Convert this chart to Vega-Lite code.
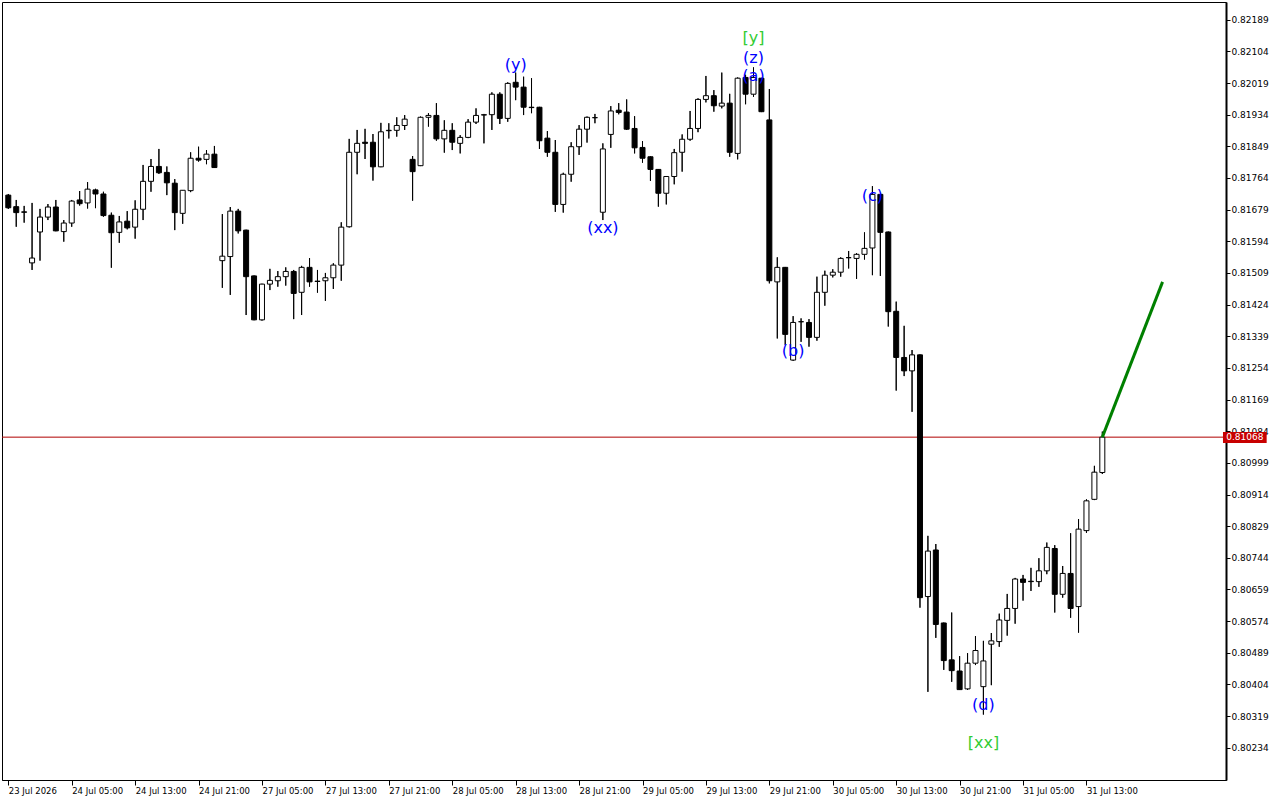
{
"$schema": "https://vega.github.io/schema/vega-lite/v6.json",
"width": 1224, "height": 778,
"autosize": {"type": "none"},
"padding": {"left": 2, "top": 2, "right": 54, "bottom": 20},
"background": "white",
"config": {"view": {"stroke": "black", "strokeWidth": 1}, "axis": {"labelFont": "DejaVu Sans", "labelFontSize": 9, "labelColor": "black", "tickColor": "black", "domainColor": "black", "grid": false, "title": null, "labelOverlap": false}},
"datasets": {
"candles": [
{"i":0,"o":0.81718,"h":0.81721,"l":0.81681,"c":0.81684},
{"i":1,"o":0.81687,"h":0.81705,"l":0.81633,"c":0.81671},
{"i":2,"o":0.81673,"h":0.81689,"l":0.81644,"c":0.81672},
{"i":3,"o":0.81536,"h":0.81697,"l":0.81517,"c":0.81549},
{"i":4,"o":0.81619,"h":0.81681,"l":0.81542,"c":0.81659},
{"i":5,"o":0.81659,"h":0.81694,"l":0.81651,"c":0.81686},
{"i":6,"o":0.81686,"h":0.81705,"l":0.81621,"c":0.81622},
{"i":7,"o":0.81620,"h":0.81651,"l":0.81593,"c":0.81643},
{"i":8,"o":0.81643,"h":0.81705,"l":0.81633,"c":0.81702},
{"i":9,"o":0.81705,"h":0.81729,"l":0.81690,"c":0.81695},
{"i":10,"o":0.81697,"h":0.81753,"l":0.81682,"c":0.81734},
{"i":11,"o":0.81732,"h":0.81735,"l":0.81683,"c":0.81721},
{"i":12,"o":0.81721,"h":0.81727,"l":0.81660,"c":0.81663},
{"i":13,"o":0.81664,"h":0.81671,"l":0.81523,"c":0.81617},
{"i":14,"o":0.81618,"h":0.81662,"l":0.81590,"c":0.81646},
{"i":15,"o":0.81648,"h":0.81675,"l":0.81626,"c":0.81630},
{"i":16,"o":0.81632,"h":0.81704,"l":0.81601,"c":0.81680},
{"i":17,"o":0.81680,"h":0.81799,"l":0.81651,"c":0.81755},
{"i":18,"o":0.81755,"h":0.81815,"l":0.81727,"c":0.81795},
{"i":19,"o":0.81795,"h":0.81842,"l":0.81775,"c":0.81778},
{"i":20,"o":0.81779,"h":0.81795,"l":0.81718,"c":0.81751},
{"i":21,"o":0.81750,"h":0.81761,"l":0.81624,"c":0.81671},
{"i":22,"o":0.81669,"h":0.81731,"l":0.81641,"c":0.81731},
{"i":23,"o":0.81730,"h":0.81833,"l":0.81726,"c":0.81817},
{"i":24,"o":0.81817,"h":0.81848,"l":0.81808,"c":0.81812},
{"i":25,"o":0.81814,"h":0.81839,"l":0.81801,"c":0.81828},
{"i":26,"o":0.81828,"h":0.81850,"l":0.81791,"c":0.81792},
{"i":27,"o":0.81542,"h":0.81667,"l":0.81469,"c":0.81554},
{"i":28,"o":0.81553,"h":0.81686,"l":0.81450,"c":0.81675},
{"i":29,"o":0.81675,"h":0.81681,"l":0.81615,"c":0.81622},
{"i":30,"o":0.81624,"h":0.81625,"l":0.81396,"c":0.81499},
{"i":31,"o":0.81501,"h":0.81502,"l":0.81382,"c":0.81383},
{"i":32,"o":0.81383,"h":0.81480,"l":0.81381,"c":0.81479},
{"i":33,"o":0.81479,"h":0.81520,"l":0.81463,"c":0.81489},
{"i":34,"o":0.81488,"h":0.81514,"l":0.81472,"c":0.81499},
{"i":35,"o":0.81499,"h":0.81524,"l":0.81475,"c":0.81513},
{"i":36,"o":0.81513,"h":0.81517,"l":0.81385,"c":0.81454},
{"i":37,"o":0.81457,"h":0.81528,"l":0.81396,"c":0.81524},
{"i":38,"o":0.81524,"h":0.81549,"l":0.81472,"c":0.81485},
{"i":39,"o":0.81487,"h":0.81517,"l":0.81456,"c":0.81486},
{"i":40,"o":0.81488,"h":0.81509,"l":0.81434,"c":0.81496},
{"i":41,"o":0.81496,"h":0.81535,"l":0.81466,"c":0.81530},
{"i":42,"o":0.81530,"h":0.81645,"l":0.81488,"c":0.81632},
{"i":43,"o":0.81633,"h":0.81869,"l":0.81631,"c":0.81833},
{"i":44,"o":0.81833,"h":0.81893,"l":0.81774,"c":0.81857},
{"i":45,"o":0.81860,"h":0.81896,"l":0.81815,"c":0.81857},
{"i":46,"o":0.81860,"h":0.81882,"l":0.81757,"c":0.81794},
{"i":47,"o":0.81794,"h":0.81912,"l":0.81793,"c":0.81888},
{"i":48,"o":0.81891,"h":0.81911,"l":0.81870,"c":0.81892},
{"i":49,"o":0.81892,"h":0.81927,"l":0.81875,"c":0.81905},
{"i":50,"o":0.81905,"h":0.81933,"l":0.81893,"c":0.81922},
{"i":51,"o":0.81814,"h":0.81823,"l":0.81703,"c":0.81781},
{"i":52,"o":0.81797,"h":0.81929,"l":0.81796,"c":0.81927},
{"i":53,"o":0.81927,"h":0.81938,"l":0.81902,"c":0.81932},
{"i":54,"o":0.81932,"h":0.81965,"l":0.81864,"c":0.81869},
{"i":55,"o":0.81869,"h":0.81919,"l":0.81832,"c":0.81892},
{"i":56,"o":0.81892,"h":0.81911,"l":0.81839,"c":0.81860},
{"i":57,"o":0.81857,"h":0.81879,"l":0.81830,"c":0.81873},
{"i":58,"o":0.81873,"h":0.81922,"l":0.81871,"c":0.81914},
{"i":59,"o":0.81914,"h":0.81951,"l":0.81909,"c":0.81932},
{"i":60,"o":0.81933,"h":0.81936,"l":0.81857,"c":0.81934},
{"i":61,"o":0.81934,"h":0.81994,"l":0.81893,"c":0.81989},
{"i":62,"o":0.81989,"h":0.81994,"l":0.81909,"c":0.81924},
{"i":63,"o":0.81924,"h":0.82021,"l":0.81915,"c":0.82018},
{"i":64,"o":0.82021,"h":0.82047,"l":0.81973,"c":0.82008},
{"i":65,"o":0.82008,"h":0.82036,"l":0.81933,"c":0.81954},
{"i":66,"o":0.81954,"h":0.82032,"l":0.81938,"c":0.81953},
{"i":67,"o":0.81954,"h":0.81955,"l":0.81842,"c":0.81864},
{"i":68,"o":0.81871,"h":0.81890,"l":0.81821,"c":0.81833},
{"i":69,"o":0.81833,"h":0.81866,"l":0.81673,"c":0.81693},
{"i":70,"o":0.81693,"h":0.81778,"l":0.81671,"c":0.81774},
{"i":71,"o":0.81774,"h":0.81860,"l":0.81754,"c":0.81848},
{"i":72,"o":0.81848,"h":0.81906,"l":0.81826,"c":0.81895},
{"i":73,"o":0.81895,"h":0.81929,"l":0.81859,"c":0.81927},
{"i":74,"o":0.81926,"h":0.81936,"l":0.81911,"c":0.81926},
{"i":75,"o":0.81672,"h":0.81857,"l":0.81651,"c":0.81842},
{"i":76,"o":0.81881,"h":0.81957,"l":0.81845,"c":0.81944},
{"i":77,"o":0.81946,"h":0.81965,"l":0.81935,"c":0.81940},
{"i":78,"o":0.81941,"h":0.81975,"l":0.81893,"c":0.81895},
{"i":79,"o":0.81897,"h":0.81930,"l":0.81830,"c":0.81845},
{"i":80,"o":0.81846,"h":0.81863,"l":0.81805,"c":0.81817},
{"i":81,"o":0.81821,"h":0.81822,"l":0.81756,"c":0.81787},
{"i":82,"o":0.81787,"h":0.81788,"l":0.81687,"c":0.81723},
{"i":83,"o":0.81723,"h":0.81769,"l":0.81693,"c":0.81768},
{"i":84,"o":0.81768,"h":0.81842,"l":0.81747,"c":0.81832},
{"i":85,"o":0.81833,"h":0.81881,"l":0.81781,"c":0.81868},
{"i":86,"o":0.81868,"h":0.81944,"l":0.81864,"c":0.81897},
{"i":87,"o":0.81897,"h":0.81978,"l":0.81887,"c":0.81975},
{"i":88,"o":0.81975,"h":0.82038,"l":0.81967,"c":0.81985},
{"i":89,"o":0.81985,"h":0.82000,"l":0.81942,"c":0.81958},
{"i":90,"o":0.81957,"h":0.82047,"l":0.81951,"c":0.81965},
{"i":91,"o":0.81965,"h":0.81990,"l":0.81821,"c":0.81833},
{"i":92,"o":0.81830,"h":0.82034,"l":0.81814,"c":0.82032},
{"i":93,"o":0.82034,"h":0.82041,"l":0.81962,"c":0.81989},
{"i":94,"o":0.81989,"h":0.82061,"l":0.81982,"c":0.82034},
{"i":95,"o":0.82032,"h":0.82033,"l":0.81941,"c":0.81942},
{"i":96,"o":0.81920,"h":0.82003,"l":0.81481,"c":0.81488},
{"i":97,"o":0.81485,"h":0.81551,"l":0.81333,"c":0.81524},
{"i":98,"o":0.81524,"h":0.81525,"l":0.81315,"c":0.81344},
{"i":99,"o":0.81275,"h":0.81393,"l":0.81273,"c":0.81376},
{"i":100,"o":0.81378,"h":0.81387,"l":0.81324,"c":0.81378},
{"i":101,"o":0.81376,"h":0.81385,"l":0.81311,"c":0.81336},
{"i":102,"o":0.81336,"h":0.81499,"l":0.81327,"c":0.81457},
{"i":103,"o":0.81457,"h":0.81515,"l":0.81421,"c":0.81503},
{"i":104,"o":0.81503,"h":0.81519,"l":0.81497,"c":0.81511},
{"i":105,"o":0.81511,"h":0.81551,"l":0.81499,"c":0.81548},
{"i":106,"o":0.81550,"h":0.81568,"l":0.81521,"c":0.81550},
{"i":107,"o":0.81548,"h":0.81562,"l":0.81493,"c":0.81559},
{"i":108,"o":0.81559,"h":0.81618,"l":0.81545,"c":0.81575},
{"i":109,"o":0.81576,"h":0.81742,"l":0.81503,"c":0.81720},
{"i":110,"o":0.81720,"h":0.81721,"l":0.81501,"c":0.81618},
{"i":111,"o":0.81619,"h":0.81620,"l":0.81365,"c":0.81405},
{"i":112,"o":0.81406,"h":0.81432,"l":0.81193,"c":0.81282},
{"i":113,"o":0.81282,"h":0.81367,"l":0.81232,"c":0.81246},
{"i":114,"o":0.81246,"h":0.81302,"l":0.81136,"c":0.81289},
{"i":115,"o":0.81289,"h":0.81290,"l":0.80610,"c":0.80637},
{"i":116,"o":0.80640,"h":0.80803,"l":0.80384,"c":0.80762},
{"i":117,"o":0.80765,"h":0.80781,"l":0.80529,"c":0.80565},
{"i":118,"o":0.80569,"h":0.80570,"l":0.80443,"c":0.80468},
{"i":119,"o":0.80470,"h":0.80597,"l":0.80411,"c":0.80441},
{"i":120,"o":0.80440,"h":0.80480,"l":0.80389,"c":0.80390},
{"i":121,"o":0.80392,"h":0.80488,"l":0.80389,"c":0.80461},
{"i":122,"o":0.80461,"h":0.80534,"l":0.80456,"c":0.80495},
{"i":123,"o":0.80398,"h":0.80521,"l":0.80323,"c":0.80467},
{"i":124,"o":0.80512,"h":0.80542,"l":0.80402,"c":0.80521},
{"i":125,"o":0.80519,"h":0.80594,"l":0.80505,"c":0.80577},
{"i":126,"o":0.80576,"h":0.80647,"l":0.80535,"c":0.80608},
{"i":127,"o":0.80608,"h":0.80690,"l":0.80567,"c":0.80687},
{"i":128,"o":0.80687,"h":0.80698,"l":0.80629,"c":0.80678},
{"i":129,"o":0.80681,"h":0.80717,"l":0.80655,"c":0.80680},
{"i":130,"o":0.80680,"h":0.80743,"l":0.80666,"c":0.80709},
{"i":131,"o":0.80709,"h":0.80785,"l":0.80700,"c":0.80772},
{"i":132,"o":0.80769,"h":0.80778,"l":0.80597,"c":0.80646},
{"i":133,"o":0.80646,"h":0.80722,"l":0.80637,"c":0.80702},
{"i":134,"o":0.80702,"h":0.80810,"l":0.80583,"c":0.80608},
{"i":135,"o":0.80613,"h":0.80848,"l":0.80543,"c":0.80821},
{"i":136,"o":0.80817,"h":0.80901,"l":0.80811,"c":0.80897},
{"i":137,"o":0.80901,"h":0.80991,"l":0.80899,"c":0.80974},
{"i":138,"o":0.80973,"h":0.81083,"l":0.80969,"c":0.81068}
],
"labels": [
{"i":64,"p":0.82067,"t":"(y)","k":"wave"},
{"i":75,"p":0.81630,"t":"(xx)","k":"wave"},
{"i":94,"p":0.82140,"t":"[y]","k":"degree"},
{"i":94,"p":0.82086,"t":"(z)","k":"wave"},
{"i":94,"p":0.82038,"t":"(a)","k":"wave"},
{"i":99,"p":0.81299,"t":"(b)","k":"wave"},
{"i":109,"p":0.81716,"t":"(c)","k":"wave"},
{"i":123,"p":0.80349,"t":"(d)","k":"wave"},
{"i":123,"p":0.80247,"t":"[xx]","k":"degree"}
],
"proj": [{"i":138,"p":0.81068},{"i":145.6,"p":0.81485}],
"cur": [{"p":0.81068,"t":"0.81068"}]
},
"layer": [
{"data": {"name": "candles"}, "mark": {"type": "rule", "color": "black", "strokeWidth": 1},
 "encoding": {
  "x": {"field": "i", "type": "quantitative", "scale": {"domain": [-0.163, 152.97], "nice": false, "zero": false},
   "axis": {"orient": "bottom", "values": [0,8,16,24,32,40,48,56,64,72,80,88,96,104,112,120,128,136], "tickCount": 40, "labelExpr": "['23 Jul 2026','24 Jul 05:00','24 Jul 13:00','24 Jul 21:00','27 Jul 05:00','27 Jul 13:00','27 Jul 21:00','28 Jul 05:00','28 Jul 13:00','28 Jul 21:00','29 Jul 05:00','29 Jul 13:00','29 Jul 21:00','30 Jul 05:00','30 Jul 13:00','30 Jul 21:00','31 Jul 05:00','31 Jul 13:00'][datum.value/8]", "labelAlign": "left", "labelBaseline": "top", "labelPadding": 1, "tickSize": 5, "labelOverlap": false, "labelFlush": false, "labelBound": false, "domainWidth": 1, "labelFontSize": 8.5}},
  "y": {"field": "l", "type": "quantitative", "scale": {"domain": [0.801473, 0.822366], "nice": false, "zero": false},
   "axis": {"orient": "right", "values": [0.80234,0.80319,0.80404,0.80489,0.80574,0.80659,0.80744,0.80829,0.80914,0.80999,0.81084,0.81169,0.81254,0.81339,0.81424,0.81509,0.81594,0.81679,0.81764,0.81849,0.81934,0.82019,0.82104,0.82189], "tickCount": 40, "format": ".5f", "tickSize": 4, "labelPadding": 1, "labelBaseline": "middle", "labelOverlap": false, "labelFlush": false, "domainWidth": 2}},
  "y2": {"field": "h"}}},
{"data": {"name": "cur"}, "mark": {"type": "rule", "color": "#b00000", "strokeWidth": 1},
 "encoding": {"y": {"field": "p", "type": "quantitative"}}},
{"data": {"name": "candles"}, "mark": {"type": "rule", "color": "black", "strokeWidth": 1},
 "encoding": {"x": {"field": "i", "type": "quantitative"}, "y": {"field": "l", "type": "quantitative"}, "y2": {"field": "h"}}},
{"data": {"name": "candles"}, "mark": {"type": "bar", "width": 5, "stroke": "black", "strokeWidth": 1},
 "encoding": {
  "x": {"field": "i", "type": "quantitative"},
  "y": {"field": "o", "type": "quantitative"},
  "y2": {"field": "c"},
  "fill": {"condition": {"test": "datum.c < datum.o", "value": "black"}, "value": "white"}}},
{"data": {"name": "proj"}, "mark": {"type": "line", "color": "#008000", "strokeWidth": 3},
 "encoding": {"x": {"field": "i", "type": "quantitative"}, "y": {"field": "p", "type": "quantitative"}}},
{"data": {"name": "labels"}, "mark": {"type": "text", "font": "DejaVu Sans", "fontSize": 16, "align": "center", "baseline": "middle"},
 "encoding": {"x": {"field": "i", "type": "quantitative"}, "y": {"field": "p", "type": "quantitative"}, "text": {"field": "t"},
  "color": {"field": "k", "type": "nominal", "scale": {"domain": ["wave", "degree"], "range": ["#0000ff", "#33cc33"]}, "legend": null}}},
{"data": {"name": "cur"}, "mark": {"type": "rect", "color": "#c80000"},
 "encoding": {"x": {"datum": 153.22}, "x2": {"datum": 158.73}, "y": {"datum": 0.81082}, "y2": {"datum": 0.81052}}},
{"data": {"name": "cur"}, "mark": {"type": "text", "color": "white", "font": "DejaVu Sans", "fontSize": 9, "align": "center", "baseline": "middle"},
 "encoding": {"x": {"datum": 155.97}, "y": {"field": "p", "type": "quantitative"}, "text": {"field": "t"}}}
]
}
